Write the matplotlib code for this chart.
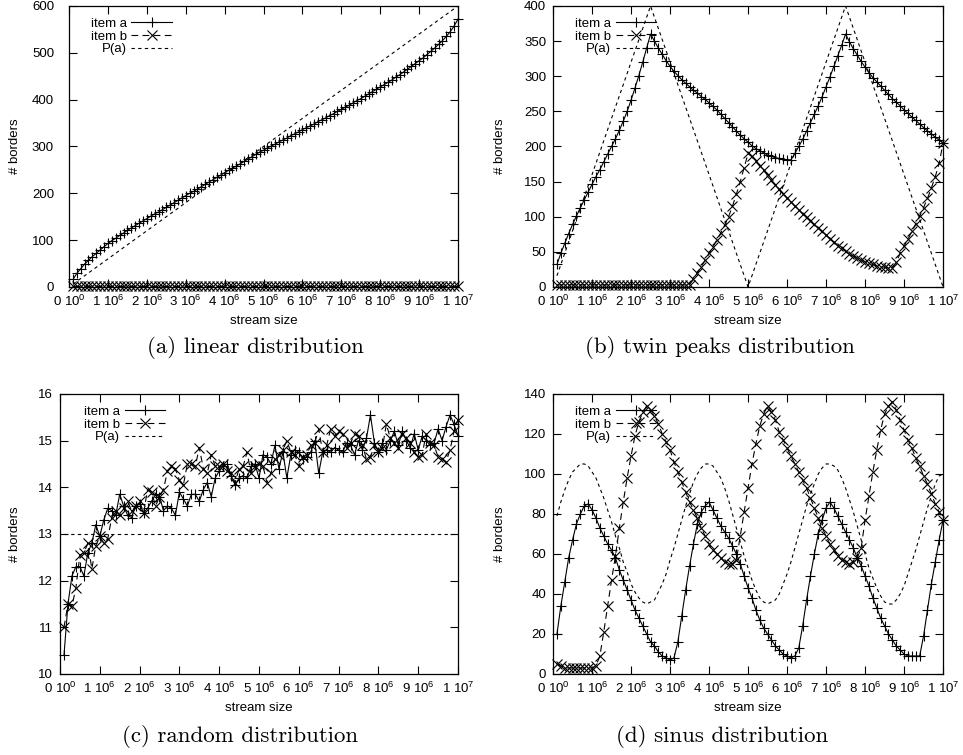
import numpy as np
import matplotlib
matplotlib.use('Agg')
import matplotlib.pyplot as plt

plt.rcParams['font.family'] = ['Liberation Sans', 'DejaVu Sans']
plt.rcParams['mathtext.fontset'] = 'custom'
plt.rcParams['mathtext.rm'] = 'Liberation Sans'
plt.rcParams['mathtext.it'] = 'Liberation Sans:italic'
plt.rcParams['mathtext.bf'] = 'Liberation Sans:bold'

# stream sizes where the borders were counted (every 10^5 items)
stream = np.arange(1, 101) * 1e5
x_ticks = np.arange(0, 11) * 1e6
x_labels = ['0 10$^0$', '1 10$^6$', '2 10$^6$', '3 10$^6$', '4 10$^6$', '5 10$^6$',
            '6 10$^6$', '7 10$^6$', '8 10$^6$', '9 10$^6$', '1 10$^7$']

# (a) linear distribution
linear_a = [16, 29, 39, 49, 57, 65, 72, 79, 86, 93,
            99, 104, 110, 115, 121, 126, 131, 136, 141, 146,
            151, 156, 160, 165, 170, 175, 180, 185, 190, 195,
            200, 204, 209, 214, 219, 224, 229, 234, 239, 244,
            249, 254, 258, 263, 268, 273, 278, 283, 288, 292,
            297, 301, 305, 310, 314, 318, 323, 327, 331, 336,
            340, 344, 348, 353, 357, 361, 366, 370, 375, 379,
            384, 388, 393, 398, 402, 407, 412, 417, 422, 427,
            432, 437, 442, 448, 453, 459, 465, 471, 477, 483,
            489, 496, 503, 510, 518, 526, 535, 545, 557, 572]
linear_b = [2] * 100
linear_pa_x = [1e5, 1e7]
linear_pa = [6, 600]

# (b) twin peaks distribution
twin_a = [32, 48, 62, 76, 89, 101, 113, 124, 135, 146,
          157, 167, 178, 189, 200, 211, 223, 236, 250, 266,
          283, 301, 320, 340, 360,
          350, 340, 331, 322, 314, 307, 301, 295, 290, 285,
          280, 276, 271, 267, 262, 257, 252, 246, 240, 234,
          228, 222, 216, 211, 206, 201, 197, 194, 191, 188,
          186, 184, 183, 182, 181, 181,
          190, 200, 210, 222, 234, 246, 258, 271, 285, 299, 314, 329, 344, 360,
          349, 339, 330, 321, 313, 305, 298, 292, 286, 280,
          274, 268, 263, 258, 252, 247, 242, 237, 232, 227,
          222, 218, 213, 209, 205]
twin_b = [3] * 35 + [
          12, 20, 29, 38, 48, 57, 67, 77, 88, 100, 115, 132, 150, 170, 190,
          186, 179, 172, 166, 159, 152, 145, 139, 133, 127,
          121, 115, 110, 104, 99, 94, 89, 84, 79, 74,
          69, 64, 59, 55, 51, 47, 44, 41, 38, 36,
          34, 32, 30, 29, 28, 27, 27,
          35, 48, 58, 68, 79, 90, 101, 113, 126, 141, 157, 176, 205]
twin_pa_x = [1e5, 2.5e6, 5e6, 7.5e6, 1e7]
twin_pa = [16, 400, 0, 400, 0]

# (c) random distribution
random_a = [10.4, 11.5, 12.1, 12.3, 12.3, 12.1, 12.6, 12.8, 13.2, 12.95,
            13.3, 13.55, 13.5, 13.4, 13.85, 13.6, 13.4, 13.35, 13.6, 13.65,
            13.45, 13.55, 13.7, 13.85, 13.8, 13.5, 13.6, 13.55, 13.4, 13.9,
            13.75, 13.6, 13.85, 13.85, 13.7, 13.95, 14.1, 13.8, 14.2, 14.35,
            14.45, 14.5, 14.25, 14.05, 14.2, 14.25, 14.2, 14.45, 14.5, 14.2,
            14.7, 14.65, 14.5, 14.9, 14.4, 14.75, 14.2, 14.7, 14.8, 14.75,
            14.6, 14.65, 14.75, 15.0, 14.3, 14.75, 14.8, 14.75, 14.85, 14.8,
            14.75, 14.95, 14.9, 14.7, 15.0, 14.8, 15.05, 15.55, 14.95, 14.75,
            14.95, 14.8, 15.0, 15.2, 14.9, 15.2, 15.0, 14.85, 15.15, 14.8,
            15.1, 15.0, 14.9, 14.95, 15.25, 15.0, 15.3, 15.55, 15.35, 15.1]
random_b = [11.0, 11.5, 11.45, 11.85, 12.55, 12.6, 12.8, 12.25, 12.75, 12.95,
            12.8, 12.9, 13.35, 13.5, 13.4, 13.55, 13.7, 13.5, 13.6, 13.7,
            13.45, 13.95, 13.9, 13.6, 13.8, 13.95, 14.35, 14.45, 14.4, 14.15,
            14.05, 14.5, 14.5, 14.45, 14.85, 14.4, 14.3, 14.7, 14.45, 14.45,
            14.5, 14.35, 14.3, 14.1, 14.4, 14.45, 14.75, 14.3, 14.45, 14.5,
            14.45, 14.1, 14.3, 14.6, 14.7, 14.8, 15.0, 14.75, 14.7, 14.45,
            14.65, 14.7, 14.9, 14.95, 15.25, 14.75, 14.9, 15.25, 15.1, 15.2,
            15.15, 14.85, 14.95, 15.15, 15.1, 14.9, 14.6, 14.65, 14.9, 14.75,
            14.85, 15.35, 15.05, 14.95, 14.85, 15.15, 15.05, 14.95, 14.75, 14.65,
            14.7, 15.15, 14.95, 14.9, 14.65, 14.6, 14.55, 14.8, 15.2, 15.45]
random_pa_x = [1e5, 1e7]
random_pa = [13, 13]

# (d) sinus distribution
sinus_a = [20, 34, 46, 58, 67, 75, 80, 84, 85,
           82, 78, 73, 69, 65, 62, 58, 52, 47, 42, 37, 32, 28, 24, 20, 16, 14, 11, 9, 8, 7,
           8, 16, 29, 42, 54, 65, 75, 81, 84, 86,
           82, 78, 74, 71, 68, 64, 60, 55, 49, 43, 38, 32, 27, 23, 20, 17, 14, 12, 10, 9, 8,
           9, 13, 24, 37, 49, 60, 70, 77, 83, 86,
           83, 79, 75, 71, 67, 63, 58, 54, 49, 44, 38, 33, 28, 24, 20, 17, 14, 12, 10, 9, 9,
           9, 9, 19, 32, 45, 56, 67, 77]
sinus_b = [5, 4, 3, 3, 3, 3, 3, 3, 3, 3, 4,
           9, 21, 34, 47, 59, 73, 86, 98, 109, 119, 126, 131, 134,
           132, 129, 125, 120, 116, 112, 106, 101, 96, 91, 86, 82, 78, 73, 69, 65,
           62, 60, 58, 56, 55, 55, 57,
           69, 81, 93, 105, 115, 124, 130, 134,
           131, 127, 121, 117, 113, 109, 105, 101, 97, 93, 88, 83, 78, 73, 69, 65,
           62, 59, 57, 56, 55, 56, 58, 63,
           77, 89, 101, 112, 122, 130, 134, 136,
           132, 127, 122, 117, 113, 108, 104, 99, 95, 90, 85, 81, 77]
sinus_pa = [79, 86, 92, 97, 101, 103, 105,
            105, 104, 101, 98, 93, 88, 82, 76, 69, 63, 56, 51, 45, 41, 38, 36, 35,
            36, 37, 41, 45, 50, 57, 63, 70, 77, 84, 90, 96, 100, 103, 105,
            105, 104, 101, 98, 93, 87, 80, 73, 66, 59, 53, 47, 42, 38, 36, 35,
            36, 37, 40, 45, 50, 56, 63, 70, 77, 84, 90, 95, 100, 103, 105,
            105, 104, 102, 98, 93, 87, 81, 74, 67, 60, 53, 48, 43, 39, 36, 35,
            35, 37, 40, 44, 50, 56, 62, 69, 76, 83, 89, 95, 99, 100]

fig = plt.figure(figsize=(9.63, 7.55), dpi=100)
fs = 9.5


def panel(rect, a, b, pa_x, pa, yticks, lab_pad, ylab_x, caption, cap_x, cap_y):
    ax = fig.add_axes(rect)
    ax.plot(stream, a, color='k', lw=0.8, marker='+', ms=6.5, mew=0.8,
            clip_on=False, label='item a')
    ax.plot(stream, b, color='k', lw=0.8, ls=(0, (6, 4)), marker='x', ms=6.5, mew=0.8,
            clip_on=False, label='item b')
    ax.plot(pa_x, pa, color='k', lw=0.8, ls=(0, (3, 3)), label='P(a)')
    ax.set_xlim(0, 1e7)
    ax.set_ylim(yticks[0], yticks[-1])
    ax.set_xticks(x_ticks, x_labels)
    ax.set_yticks(yticks)
    ax.tick_params(direction='in', length=5.8, width=0.8, top=True, right=True,
                   labelsize=fs)
    ax.tick_params(axis='y', pad=lab_pad)
    ax.tick_params(axis='x', pad=5.2)
    for s in ax.spines.values():
        s.set_linewidth(0.9)
    ax.set_xlabel('stream size', fontsize=fs)
    ax.set_ylabel('# borders', fontsize=fs)
    ax.xaxis.set_label_coords(0.5, -0.1)
    ax.yaxis.set_label_coords(ylab_x, 0.5)
    ax.legend(loc='upper right', bbox_to_anchor=(0.265, 0.958), frameon=False,
              markerfirst=False, handlelength=3.1, handletextpad=0.35,
              labelspacing=0.03, borderpad=0, borderaxespad=0, fontsize=fs)
    fig.text(cap_x, cap_y, caption, fontfamily='cmr10', fontsize=16.5,
             ha='center', va='center')
    return ax


panel([0.0717, 0.6199, 0.4039, 0.3722], linear_a, linear_b, linear_pa_x, linear_pa,
      [0, 100, 200, 300, 400, 500, 600], 10.8, -0.123,
      '(a) linear distribution', 0.265, 0.540)
panel([0.5743, 0.6199, 0.4050, 0.3722], twin_a, twin_b, twin_pa_x, twin_pa,
      [0, 50, 100, 150, 200, 250, 300, 350, 400], 5, -0.12,
      '(b) twin peaks distribution', 0.748, 0.540)
panel([0.0623, 0.1073, 0.4133, 0.3709], random_a, random_b, random_pa_x, random_pa,
      [10, 11, 12, 13, 14, 15, 16], 5, -0.098,
      '(c) random distribution', 0.249, 0.024)
panel([0.5743, 0.1073, 0.4050, 0.3709], sinus_a, sinus_b, stream, sinus_pa,
      [0, 20, 40, 60, 80, 100, 120, 140], 5, -0.12,
      '(d) sinus distribution', 0.750, 0.024)

fig.savefig('out.png', dpi=100)
